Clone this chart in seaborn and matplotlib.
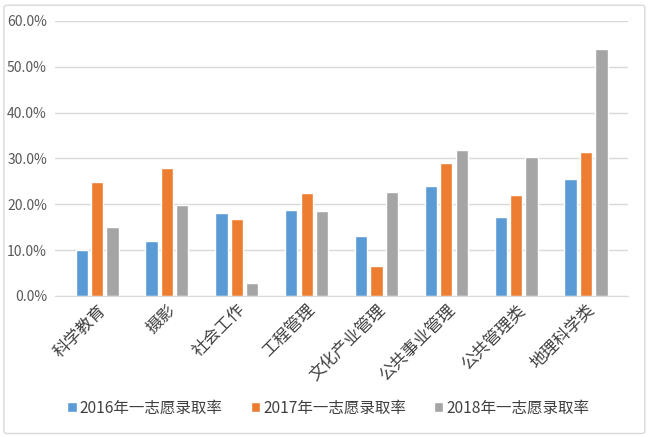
import pandas as pd
import matplotlib.pyplot as plt
import seaborn as sns
from matplotlib.ticker import PercentFormatter
from matplotlib.patches import FancyBboxPatch

# data (percent)
majors = ['科学教育', '摄影', '社会工作', '工程管理', '文化产业管理', '公共事业管理', '公共管理类', '地理科学类']
series_names = ['2016年一志愿录取率', '2017年一志愿录取率', '2018年一志愿录取率']
rate_2016 = [10.0, 11.9, 18.1, 18.8, 13.0, 23.9, 17.2, 25.5]
rate_2017 = [24.8, 28.0, 16.7, 22.4, 6.6, 29.0, 22.0, 31.5]
rate_2018 = [15.0, 19.9, 2.8, 18.6, 22.6, 31.9, 30.3, 53.8]
colors = ['#5B9BD5', '#ED7D31', '#A5A5A5']

rows = []
for name, vals in zip(series_names, [rate_2016, rate_2017, rate_2018]):
    for m, v in zip(majors, vals):
        rows.append({'major': m, 'series': name, 'rate': v})
df = pd.DataFrame(rows)

sns.set_style('white')
plt.rcParams['font.family'] = ['Noto Sans CJK SC', 'DejaVu Sans']

fig = plt.figure(figsize=(6.5, 4.37), dpi=100)
ax = fig.add_axes([0.085, 0.3227, 0.881, 0.6293])

sns.barplot(data=df, x='major', y='rate', hue='series', palette=colors,
            saturation=1, width=0.66, gap=0.2, ax=ax, legend=True)

ax.set_ylim(0, 60)
ax.set_yticks(range(0, 61, 10))
ax.yaxis.set_major_formatter(PercentFormatter(decimals=1))
ax.set_xlim(-0.6, len(majors) - 0.4)
ax.grid(axis='y', color='#D9D9D9', linewidth=1)
ax.set_axisbelow(True)
for s in ['top', 'right', 'left']:
    ax.spines[s].set_visible(False)
ax.spines['bottom'].set_color('#D9D9D9')
ax.set_xlabel('')
ax.set_ylabel('')
ax.tick_params(axis='y', length=0, labelsize=10, labelcolor='#595959', pad=6)
ax.tick_params(axis='x', length=0, labelsize=12, labelcolor='#404040', pad=4)
plt.setp(ax.get_xticklabels(), rotation=45, ha='right', rotation_mode='anchor')

handles, labels = ax.get_legend_handles_labels()
ax.legend_.remove()
fig.legend(handles, labels, loc='center', bbox_to_anchor=(0.505, 0.066), ncol=3,
           frameon=False, fontsize=11.2, handlelength=0.6, handleheight=0.6,
           handletextpad=0.2, columnspacing=1.8, labelcolor='#404040')

# light rounded frame around the chart
frame = FancyBboxPatch((0.006, 0.008), 0.986, 0.98, boxstyle='round,pad=0,rounding_size=0.005',
                       transform=fig.transFigure, fill=False, edgecolor='#D9D9D9', linewidth=1)
fig.patches.append(frame)

fig.savefig('out.png', dpi=100)
